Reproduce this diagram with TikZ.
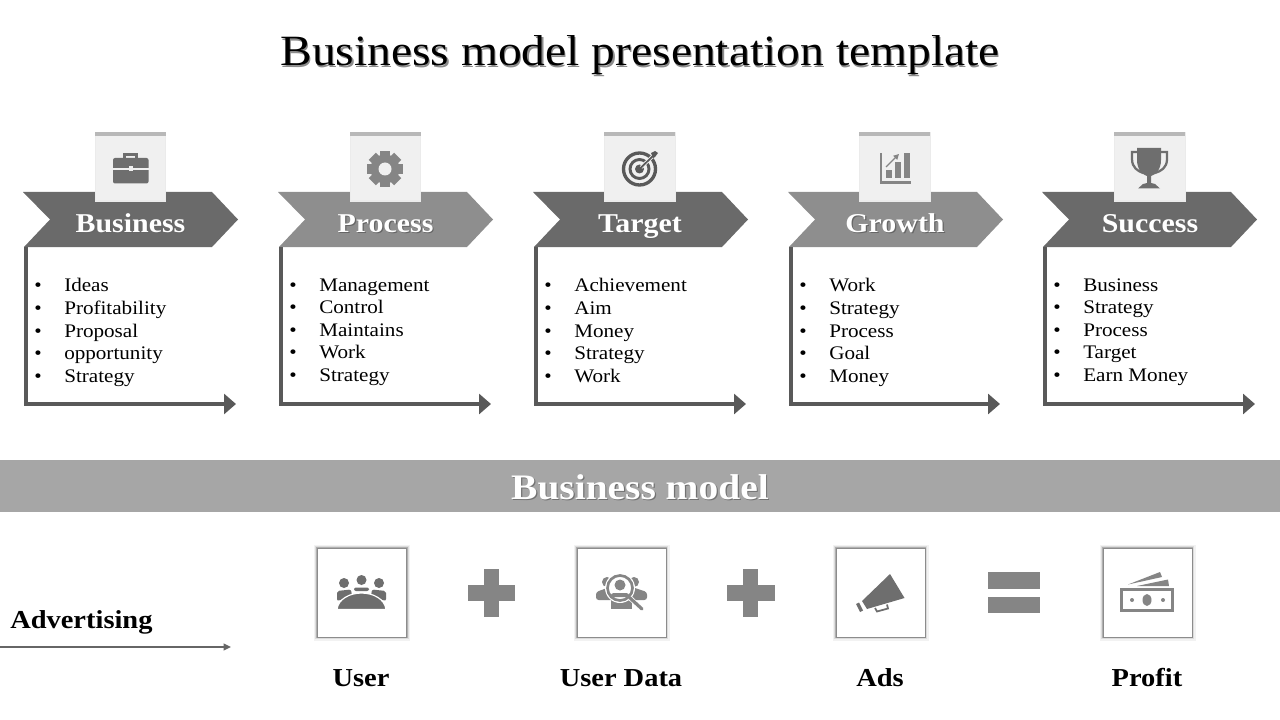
\documentclass[tikz,border=0pt]{standalone}
\usepackage{fontspec}
\setmainfont[FakeStretch=1.1]{Liberation Serif}
\usetikzlibrary{arrows.meta}
\definecolor{darkband}{HTML}{6A6A6A}
\definecolor{lightband}{HTML}{8E8E8E}
\definecolor{elbowgray}{HTML}{595959}
\definecolor{stripgray}{HTML}{A6A6A6}
\definecolor{tilegray}{HTML}{F0F0F0}
\definecolor{icongray}{HTML}{6E6E6E}
\definecolor{softgray}{HTML}{858585}
\newcommand{\softshade}[2]{\rlap{\hspace{0.9pt}\raisebox{-0.9pt}{\color{#1}#2}}#2}
\newcommand{\bul}[1]{\makebox[22.5pt][l]{\textbullet}#1\\}
\tikzset{
  tile/.style={fill=tilegray,draw=black!8,line width=0.8pt,minimum width=53pt,minimum height=51pt,inner sep=0pt},
  tilecap/.style={fill=black!28},
  bandtext/.style={anchor=base,text=white,font=\fontsize{20.4}{24}\selectfont\bfseries},
  listtext/.style={anchor=north west,inner sep=0pt,align=left,font=\fontsize{14.4}{16.9}\selectfont},
  elbow/.style={draw=elbowgray,line width=2.6pt,-{Triangle[length=9pt,width=15pt]}},
  modelbox/.style={fill=white,draw=black!45,line width=0.5pt,minimum width=67pt,minimum height=67pt,inner sep=0pt,
    preaction={draw=black,opacity=0.05,line width=5pt},preaction={draw=black,opacity=0.09,line width=3.2pt},
    preaction={draw=black,opacity=0.2,line width=1.6pt}},
  modeltext/.style={anchor=base,font=\fontsize{19.4}{23}\selectfont\bfseries},
  hole/.style={draw=white,line width=0.9pt}
}
\begin{document}
\begin{tikzpicture}[x=0.75pt,y=-0.75pt]
\useasboundingbox (0,0) rectangle (1280,720);
\node[anchor=base] (title) at (640,66) {\fontsize{32.4}{36}\selectfont\softshade{black!45}{Business model presentation template}};

\fill[darkband] (23,192)--(212,192)--(238,219.5)--(212,247)--(24,247)--(50,219.5)--cycle;
\fill[lightband] (278,192)--(467,192)--(493,219.5)--(467,247)--(279,247)--(305,219.5)--cycle;
\fill[darkband] (533,192)--(722,192)--(748,219.5)--(722,247)--(534,247)--(560,219.5)--cycle;
\fill[lightband] (788,192)--(977,192)--(1003,219.5)--(977,247)--(789,247)--(815,219.5)--cycle;
\fill[darkband] (1042,192)--(1231,192)--(1257,219.5)--(1231,247)--(1043,247)--(1069,219.5)--cycle;

\node[tile] (businesstile) at (130.5,167) {};
\node[tile] (processtile) at (385.5,167) {};
\node[tile] (targettile) at (640,167) {};
\node[tile] (growthtile) at (895,167) {};
\node[tile] (successtile) at (1150,167) {};
\fill[tilecap] (businesstile.north west) rectangle ++(71,3.5);
\fill[tilecap] (processtile.north west) rectangle ++(71,3.5);
\fill[tilecap] (targettile.north west) rectangle ++(71,3.5);
\fill[tilecap] (growthtile.north west) rectangle ++(71,3.5);
\fill[tilecap] (successtile.north west) rectangle ++(71,3.5);

\node[bandtext] (businesslabel) at (130.5,232.5) {\softshade{black!60}{Business}};
\node[bandtext] (processlabel) at (385.5,232.5) {\softshade{black!60}{Process}};
\node[bandtext] (targetlabel) at (640,232.5) {\softshade{black!60}{Target}};
\node[bandtext] (growthlabel) at (895,232.5) {\softshade{black!60}{Growth}};
\node[bandtext] (successlabel) at (1150,232.5) {\softshade{black!60}{Success}};

\node[listtext] (businesslist) at (34,278.4) {\bul{Ideas}\bul{Profitability}\bul{Proposal}\bul{opportunity}\bul{Strategy}};
\node[listtext] (processlist) at (289,278.4) {\bul{Management}\bul{Control}\bul{Maintains}\bul{Work}\bul{Strategy}};
\node[listtext] (targetlist) at (544,278.4) {\bul{Achievement}\bul{Aim}\bul{Money}\bul{Strategy}\bul{Work}};
\node[listtext] (growthlist) at (799,278.4) {\bul{Work}\bul{Strategy}\bul{Process}\bul{Goal}\bul{Money}};
\node[listtext] (successlist) at (1053,278.4) {\bul{Business}\bul{Strategy}\bul{Process}\bul{Target}\bul{Earn Money}};

\coordinate (businesstop) at (26,247);
\coordinate (businessend) at (236,404);
\coordinate (processtop) at (281,247);
\coordinate (processend) at (491,404);
\coordinate (targettop) at (536,247);
\coordinate (targetend) at (746,404);
\coordinate (growthtop) at (791,247);
\coordinate (growthend) at (1000,404);
\coordinate (successtop) at (1045,247);
\coordinate (successend) at (1255,404);
\draw[elbow] (businesstop) |- (businessend);
\draw[elbow] (processtop) |- (processend);
\draw[elbow] (targettop) |- (targetend);
\draw[elbow] (growthtop) |- (growthend);
\draw[elbow] (successtop) |- (successend);

% briefcase
\draw[icongray,line width=1.6pt] (124.5,158) -- (124.5,154.5) -- (136.5,154.5) -- (136.5,158);
\fill[icongray,rounded corners=1.5pt] (113,158) rectangle (148.5,183.5);
\draw[tilegray,line width=0.8pt] (113,169) -- (148.5,169);
\fill[tilegray] (128.5,166.5) rectangle (132.5,171.5);
% gear
\fill[softgray] (385,169) circle (14.5);
\fill[softgray,rotate around={0:(385,169)}] (380,151) rectangle (390,187);
\fill[softgray,rotate around={45:(385,169)}] (380,151) rectangle (390,187);
\fill[softgray,rotate around={90:(385,169)}] (380,151) rectangle (390,187);
\fill[softgray,rotate around={135:(385,169)}] (380,151) rectangle (390,187);
\fill[tilegray] (385,169) circle (6.5);
% target
\draw[elbowgray,line width=2.5pt] (639.5,169) circle (16);
\draw[elbowgray,line width=2.2pt] (639.5,169) circle (9.5);
\fill[elbowgray] (639.5,169) circle (4.5);
\draw[tilegray,line width=2.6pt] (641,167.5) -- (656,153);
\draw[elbowgray,line width=1.3pt] (640,168.5) -- (654,155);
\fill[elbowgray] (651,153) -- (655,151) -- (658,153) -- (655,157) -- (653,158) -- cycle;
% growth chart
\draw[softgray,line width=1.9pt] (881,153) -- (881,182.5) -- (911,182.5);
\fill[softgray] (886,170) rectangle (892,178);
\fill[softgray] (895,162) rectangle (901,178);
\fill[softgray] (904,153) rectangle (910,178);
\draw[softgray,line width=0.9pt,-{Triangle[length=4pt,width=4pt]}] (886,167) -- (899,154);
% trophy
\draw[icongray,line width=1.7pt] (1137,152) -- (1132,152) -- (1132,159) .. controls (1132,168) and (1138,171) .. (1143,173);
\draw[icongray,line width=1.7pt] (1161,152) -- (1167,152) -- (1167,159) .. controls (1167,168) and (1161,171) .. (1155,173);
\fill[icongray] (1137,148) -- (1161,148) -- (1161,160) .. controls (1161,170) and (1155,175) .. (1151,176) -- (1151,183) -- (1155,184) -- (1160,188.5) -- (1138,188.5) -- (1143,184) -- (1147,183) -- (1147,176) .. controls (1143,175) and (1137,170) .. (1137,160) -- cycle;

\fill[stripgray] (0,460) rectangle (1280,512);
\node[anchor=base,text=white,font=\fontsize{26.9}{30}\selectfont\bfseries] (modeltitle) at (640,499) {\softshade{black!55}{Business model}};

\node[modelbox] (userbox) at (362,592.5) {};
\node[modelbox] (databox) at (621.5,592.5) {};
\node[modelbox] (adsbox) at (880.5,592.5) {};
\node[modelbox] (profitbox) at (1147.5,592.5) {};

\node[modeltext] (userlabel) at (361,686) {User};
\node[modeltext] (datalabel) at (621,686) {User Data};
\node[modeltext] (adslabel) at (880,686) {Ads};
\node[modeltext] (profitlabel) at (1147,686) {Profit};
\node[modeltext,anchor=base west,inner sep=0pt] (advertising) at (10,628) {Advertising};
\coordinate (linestart) at (0,647);
\coordinate (lineend) at (231,647);
\draw[black!60,line width=1.3pt,-{Triangle[length=5.5pt,width=5pt]}] (linestart) -- (lineend);

\fill[softgray] (468,585) rectangle (515,601);
\fill[softgray] (484,569) rectangle (499,617);
\fill[softgray] (727,585) rectangle (775,601);
\fill[softgray] (743,569) rectangle (758,617);
\fill[softgray] (988,572) rectangle (1040,589);
\fill[softgray] (988,597) rectangle (1040,613);

% meeting table
\fill[icongray] (344,583) circle (5);
\fill[icongray] (361.5,580) circle (5);
\fill[icongray] (379,583) circle (5);
\fill[icongray,rounded corners=1.5pt] (337,601) -- (337,591) -- (351,589.5) -- (352,596) -- cycle;
\fill[icongray,rounded corners=1.5pt] (386,601) -- (386,591) -- (372,589.5) -- (371,596) -- cycle;
\fill[icongray,rounded corners=1.5pt] (354,591) -- (354,587.5) -- (369,587.5) -- (369,591) -- cycle;
\fill[icongray,hole] (337,609.5) .. controls (338,599) and (350,593) .. (361.5,593) .. controls (373,593) and (385,599) .. (386,609.5) -- cycle;
% people under magnifier
\fill[softgray] (607,582) circle (5);
\fill[softgray] (634,582) circle (5);
\fill[softgray,rounded corners=2pt] (596,600) -- (596,592) -- (610,587) -- (632,587) -- (647,592) -- (647,600) -- cycle;
\fill[softgray] (611,598) rectangle (632,609);
\fill[white] (620,588) circle (15);
\draw[softgray,line width=2pt] (620,588) circle (12.5);
\fill[softgray] (620,585) circle (5.5);
\fill[softgray,rounded corners=2pt] (611,597) -- (611,593) -- (629,593) -- (629,597) -- cycle;
\draw[white,line width=3.6pt] (630,598) -- (642,609);
\draw[softgray,line width=2.4pt,line cap=round] (630,598) -- (642,609);
% megaphone
\fill[icongray] (890,574) -- (904.5,598) -- (867,609) -- (862,601) -- cycle;
\fill[icongray] (856,604) -- (859,602.5) -- (863,610.5) -- (860,612) -- cycle;
\draw[icongray,line width=1.3pt] (875,608) -- (877,611.5) -- (888,608.5) -- (887,604.5);
% money
\draw[softgray,line width=2.4pt] (1121.5,589.5) rectangle (1172.5,610.5);
\fill[softgray] (1147,600) ellipse (4.5 and 6);
\fill[softgray] (1132,600) circle (2);
\fill[softgray] (1163,600) circle (2);
\fill[softgray] (1128,584.5) -- (1160,572) -- (1162,577) -- cycle;
\fill[softgray] (1137,586) -- (1168,579.5) -- (1169,586) -- cycle;
\end{tikzpicture}
\end{document}
